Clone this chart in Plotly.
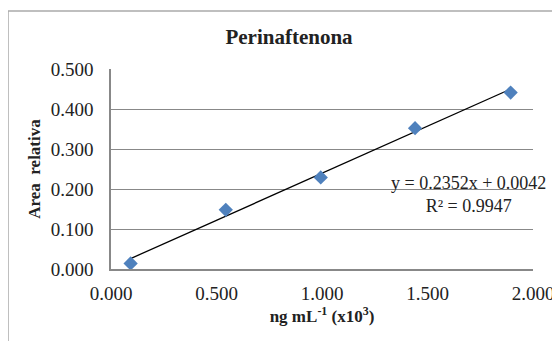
import plotly.graph_objects as go

conc = [0.093, 0.544, 0.994, 1.441, 1.894]
area = [0.014, 0.148, 0.229, 0.352, 0.441]
slope = 0.2352
intercept = 0.0042
eq_text = "y = 0.2352x + 0.0042<br>R² = 0.9947"
y_ticks = [0.0, 0.1, 0.2, 0.3, 0.4, 0.5]
x_ticks = [0.0, 0.5, 1.0, 1.5, 2.0]

font = "Liberation Serif, Times New Roman, serif"

# page body has an 8px margin: figure occupies (8,8)-(560,341)
OFF = 8
W, H = 560 - OFF, 341 - OFF
L, R, T, B = 111 - OFF, 27, 69 - OFF, 72
PW, PH = W - L - R, H - T - B

trend_x = [min(conc), max(conc)]
trend_y = [slope * v + intercept for v in trend_x]

fig = go.Figure()
fig.add_trace(go.Scatter(x=trend_x, y=trend_y, mode="lines",
                         line=dict(color="black", width=1.3), showlegend=False))
fig.add_trace(go.Scatter(x=conc, y=area, mode="markers",
                         marker=dict(symbol="diamond", size=11, color="#4F81BD"),
                         showlegend=False))

fig.update_layout(
    width=W, height=H,
    margin=dict(l=L, r=R, t=T, b=B, autoexpand=False),
    paper_bgcolor="white", plot_bgcolor="white",
    font=dict(family=font, size=19, color="#222"),
    title=dict(text="<b>Perinaftenona</b>", x=(289 - OFF) / W, xanchor="center",
               y=1 - (37 - OFF) / H, yanchor="middle", font=dict(size=21, color="#222")),
    xaxis=dict(range=[0, 2], tickvals=x_ticks, tickformat=".3f",
               showgrid=False, showline=True, linecolor="#888", linewidth=1.5,
               zeroline=False, ticks="", ticklabelstandoff=6,
               title=dict(text="<b>ng mL<sup>-1</sup> (x10<sup>3</sup>)</b>",
                          font=dict(size=17), standoff=8)),
    yaxis=dict(range=[0, 0.5], tickvals=y_ticks, tickformat=".3f",
               showgrid=True, gridcolor="#888", gridwidth=1,
               showline=True, linecolor="#888", linewidth=1.5,
               zeroline=False, ticks="", ticklabelstandoff=12,
               title=dict(text="<b>Area  relativa</b>", font=dict(size=17), standoff=6)),
    annotations=[dict(text=eq_text, xref="paper", yref="paper",
                      x=(468 - 111) / PW, y=(269 - 194) / PH,
                      xanchor="center", yanchor="middle", showarrow=False,
                      align="center", font=dict(size=18, color="#222"))],
    shapes=[dict(type="rect", xref="paper", yref="paper",
                 x0=-L / PW, x1=1.3, y0=-0.6, y1=(269 - 11) / PH,
                 line=dict(color="#AAA", width=1.5), layer="below")],
)

fig.write_html("out.html")
